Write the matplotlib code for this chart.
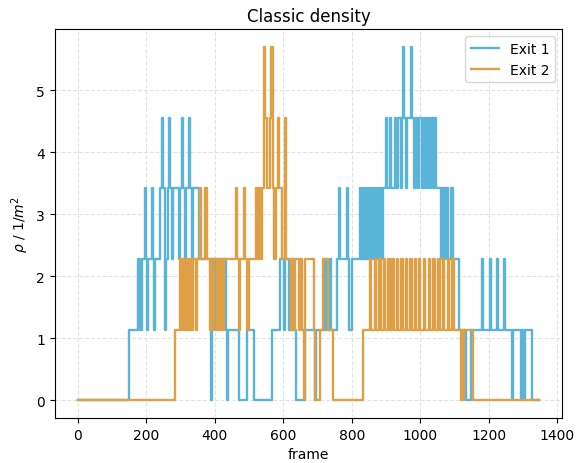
import matplotlib
matplotlib.use("Agg")
import matplotlib.pyplot as plt

# density contributed by one pedestrian inside the measurement area (1/m^2)
RHO_UNIT = 1.14
LAST_FRAME = 1346

# (frame, persons in measurement area) at each change of the count
exit1_steps = [
    (0, 0), (149, 1), (175, 2), (181, 1), (187, 2), (196, 3), (200, 2), (202, 1),
    (205, 2), (216, 3), (219, 2), (222, 1), (225, 2), (240, 3), (245, 4), (248, 3),
    (253, 1), (257, 2), (262, 3), (267, 4), (270, 3), (276, 2), (279, 3), (294, 2),
    (297, 3), (304, 4), (307, 3), (314, 2), (317, 3), (323, 4), (326, 3), (332, 2),
    (335, 3), (355, 2), (388, 0), (391, 2), (404, 1), (407, 2), (415, 1), (418, 2),
    (432, 1), (435, 0), (438, 1), (470, 0), (493, 1), (514, 0), (566, 1), (590, 2),
    (603, 1), (606, 2), (616, 1), (637, 0), (663, 1), (692, 0), (695, 1), (721, 2),
    (724, 1), (736, 2), (739, 1), (757, 2), (762, 3), (765, 2), (785, 3), (788, 2),
    (791, 1), (800, 2), (823, 3), (827, 2), (831, 3), (836, 2), (840, 3), (845, 2),
    (849, 3), (853, 2), (857, 3), (862, 2), (866, 3), (869, 2), (876, 3), (880, 2),
    (885, 3), (889, 2), (892, 3), (899, 4), (903, 3), (911, 4), (915, 3), (925, 4),
    (930, 3), (936, 4), (942, 3), (946, 4), (949, 5), (952, 4), (958, 3), (962, 4),
    (972, 5), (975, 4), (982, 3), (986, 4), (993, 3), (997, 4), (1005, 3), (1009, 4),
    (1016, 3), (1020, 4), (1026, 3), (1030, 4), (1036, 3), (1040, 4), (1045, 3),
    (1060, 2), (1063, 3), (1070, 2), (1076, 3), (1080, 2), (1090, 3), (1094, 2),
    (1113, 1), (1133, 0), (1148, 1), (1180, 2), (1183, 1), (1203, 2), (1206, 1),
    (1223, 2), (1226, 1), (1244, 2), (1247, 1), (1267, 0), (1271, 1), (1294, 0),
    (1297, 1), (1302, 0), (1305, 1), (1326, 0),
]

exit2_steps = [
    (0, 0), (283, 1), (298, 2), (301, 1), (305, 2), (309, 1), (313, 2), (317, 1),
    (321, 2), (325, 1), (329, 2), (333, 1), (337, 2), (345, 1), (348, 2), (356, 3),
    (360, 2), (370, 3), (378, 2), (385, 1), (388, 2), (395, 1), (398, 2), (405, 1),
    (408, 2), (415, 1), (418, 2), (425, 1), (428, 2), (461, 3), (465, 2), (470, 1),
    (473, 2), (484, 3), (488, 2), (494, 1), (500, 2), (520, 3), (524, 2), (527, 3),
    (533, 2), (538, 3), (543, 5), (547, 4), (551, 3), (562, 4), (565, 5), (569, 3),
    (574, 2), (578, 3), (584, 4), (588, 3), (596, 2), (604, 4), (608, 2), (622, 1),
    (625, 2), (630, 1), (634, 2), (645, 1), (650, 2), (655, 1), (660, 0), (664, 2),
    (688, 1), (692, 0), (707, 1), (715, 2), (730, 1), (745, 0), (832, 1), (853, 2),
    (857, 1), (866, 2), (870, 1), (880, 2), (884, 1), (893, 2), (897, 1), (906, 2),
    (910, 1), (918, 2), (922, 1), (931, 2), (935, 1), (944, 2), (948, 1), (957, 2),
    (961, 1), (970, 2), (974, 1), (983, 2), (987, 1), (996, 2), (1000, 1), (1010, 2),
    (1014, 1), (1024, 2), (1028, 1), (1038, 2), (1042, 1), (1052, 2), (1056, 1),
    (1066, 2), (1070, 1), (1080, 2), (1084, 1), (1093, 2), (1097, 1), (1118, 0),
    (1121, 1), (1124, 0), (1127, 1), (1153, 0),
]

series_labels = ["Exit 1", "Exit 2"]
series_colors = ["#5AB4DA", "#DE9F45"]
x_ticks = [0, 200, 400, 600, 800, 1000, 1200, 1400]
y_ticks = [0, 1, 2, 3, 4, 5]


def to_curve(steps):
    frames = [f for f, _ in steps] + [LAST_FRAME]
    rho = [n * RHO_UNIT for _, n in steps]
    rho.append(rho[-1])
    return frames, rho


fig = plt.figure(figsize=(5.77, 4.64), dpi=100)
ax = fig.add_axes([0.095, 0.097, 0.879, 0.838])

for steps, label, color in zip([exit1_steps, exit2_steps], series_labels, series_colors):
    frames, rho = to_curve(steps)
    ax.step(frames, rho, where="post", color=color, lw=1.7, label=label)

ax.set_xticks(x_ticks)
ax.set_yticks(y_ticks)
ax.grid(True, linestyle="--", color="#e3e3e3", linewidth=0.8)
ax.set_axisbelow(True)
ax.set_title("Classic density", fontsize=12)
ax.set_xlabel("frame", fontsize=10)
ax.set_ylabel(r"$\rho$ / 1/$m^2$", fontsize=10)
ax.legend(loc="upper right", fontsize=10)

fig.savefig("out.png", dpi=100)
